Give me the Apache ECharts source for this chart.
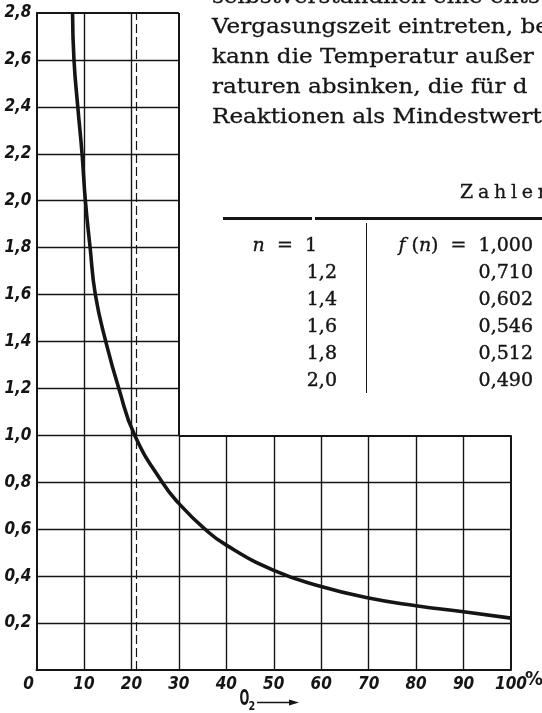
<!DOCTYPE html>
<html>
<head>
<meta charset="utf-8">
<title>Einfluss des Sauerstoffgehalts</title>
<script src="https://cdn.jsdelivr.net/npm/echarts@6/dist/echarts.min.js"></script>
<style>
  html, body { margin: 0; padding: 0; background: #fff; }
  #chart { width: 542px; height: 713px; }
</style>
</head>
<body>
<div id="chart"></div>
<script>
// O2 content of the blast (%) and the relative factor
const o2Pct  = [7.6, 7.9, 8.7, 9.6, 10.3, 11.3, 12.4, 14.6, 17.35, 20.7, 26.5, 30, 35.5, 40, 50, 60, 70, 80, 90, 100];
const factor = [2.8, 2.6, 2.4, 2.2, 2.0, 1.8, 1.6, 1.4, 1.2, 1.0, 0.8, 0.71, 0.6, 0.532, 0.425, 0.356, 0.307, 0.274, 0.248, 0.221];

// Tick values of both axes
const xTicks = [0, 10, 20, 30, 40, 50, 60, 70, 80, 90, 100];
const yTicks = [0, 0.2, 0.4, 0.6, 0.8, 1.0, 1.2, 1.4, 1.6, 1.8, 2.0, 2.2, 2.4, 2.6, 2.8];

// The ruled field is L-shaped: tall up to 30 % O2, low (up to 1,0) beyond that
const narrowXMax = 30;
const lowYMax = 1.0;
const airO2 = 21;   // oxygen content of air, dashed line

// Accompanying text block and table
const paragraph = [
  'selbstverständlich eine ents',
  'Vergasungszeit eintreten, be',
  'kann die Temperatur außer',
  'raturen absinken, die für d',
  'Reaktionen als Mindestwert'
];
const tableN  = ['1', '1,2', '1,4', '1,6', '1,8', '2,0'];
const tableFn = ['1,000', '0,710', '0,602', '0,546', '0,512', '0,490'];

const INK = '#151515';
const yMax = yTicks[yTicks.length - 1];
const xMax = xTicks[xTicks.length - 1];

function seg(x1, y1, x2, y2, width, type) {
  return [
    { coord: [x1, y1], lineStyle: { width: width, type: type || 'solid', color: INK } },
    { coord: [x2, y2] }
  ];
}

const rules = [];
// horizontal rules
yTicks.forEach(function (v) {
  if (v === 0) return;
  if (v < lowYMax) rules.push(seg(0, v, xMax, v, 1.4));
  else if (v === lowYMax) {
    rules.push(seg(0, v, narrowXMax, v, 1.4));
    rules.push(seg(narrowXMax, v, xMax, v, 2));
  } else if (v === yMax) rules.push(seg(0, v, narrowXMax, v, 2));
  else rules.push(seg(0, v, narrowXMax, v, 1.4));
});
// vertical rules
xTicks.forEach(function (v) {
  if (v === 0) return;
  if (v < narrowXMax) rules.push(seg(v, 0, v, yMax, 1.4));
  else if (v === narrowXMax) {
    rules.push(seg(v, 0, v, lowYMax, 1.4));
    rules.push(seg(v, lowYMax, v, yMax, 2));
  } else if (v === xMax) rules.push(seg(v, 0, v, lowYMax, 2));
  else rules.push(seg(v, 0, v, lowYMax, 1.4));
});
// air oxygen content
rules.push(seg(airO2, 0, airO2, yMax, 1.2, [9, 4]));

const curve = o2Pct.map(function (x, i) { return [x, factor[i]]; });

const tickFont = '"DejaVu Sans Condensed", "Liberation Sans Narrow", sans-serif';
const serif = '"DejaVu Serif", "Liberation Serif", serif';

const graphics = [];
paragraph.forEach(function (t, i) {
  graphics.push({
    type: 'text', x: 212, y: -2 + i * 30, scaleX: 1.1,
    style: { text: t, font: '21px ' + serif, fill: INK, stroke: INK, lineWidth: 0.3, verticalAlign: 'middle' }
  });
});
graphics.push({
  type: 'text', x: 460, y: 193,
  style: { text: 'Z\u2005a\u2005h\u2005l\u2005e\u2005n', font: '19px ' + serif, fill: INK, stroke: INK, lineWidth: 0.3, verticalAlign: 'middle' }
});
graphics.push({ type: 'line', shape: { x1: 223, y1: 218.5, x2: 312, y2: 218.5 }, style: { stroke: INK, lineWidth: 3 } });
graphics.push({ type: 'line', shape: { x1: 315, y1: 218.5, x2: 542, y2: 218.5 }, style: { stroke: INK, lineWidth: 3 } });
graphics.push({ type: 'line', shape: { x1: 366.5, y1: 223, x2: 366.5, y2: 393 }, style: { stroke: INK, lineWidth: 1 } });
const rich = { i: { fontStyle: 'italic', fontFamily: serif, fontSize: 19, fill: INK, stroke: INK, lineWidth: 0.3 } };
tableN.forEach(function (t, i) {
  const y = 245.7 + i * 27;
  graphics.push({
    type: 'text', x: i === 0 ? 317 : 337, y: y,
    style: { text: i === 0 ? '{i|n}  =  ' + t : t, rich: rich, font: '19px ' + serif, fill: INK, stroke: INK, lineWidth: 0.4, align: 'right', verticalAlign: 'middle' }
  });
  graphics.push({
    type: 'text', x: 533, y: y,
    style: { text: i === 0 ? '{i|f} ({i|n})  =  ' + tableFn[i] : tableFn[i], rich: rich, font: '19px ' + serif, fill: INK, stroke: INK, lineWidth: 0.4, align: 'right', verticalAlign: 'middle' }
  });
});
// percent sign after the last tick label
graphics.push({
  type: 'text', x: 525, y: 680,
  style: { text: '%', font: 'bold 20px "DejaVu Sans Condensed", sans-serif', fill: INK, verticalAlign: 'middle' }
});
// axis name "O2 ->"
graphics.push({
  type: 'text', x: 239.5, y: 699.5, scaleX: 0.55,
  style: { text: 'O', font: 'bold 21px "DejaVu Sans", sans-serif', fill: INK, verticalAlign: 'middle' }
});
graphics.push({
  type: 'text', x: 248.5, y: 706.5, scaleX: 0.8,
  style: { text: '2', font: 'bold 12px "DejaVu Sans", sans-serif', fill: INK, verticalAlign: 'middle' }
});
graphics.push({ type: 'line', shape: { x1: 257, y1: 702.5, x2: 291, y2: 702.5 }, style: { stroke: INK, lineWidth: 1.5 } });
graphics.push({ type: 'polygon', shape: { points: [[289, 699.5], [299, 702.5], [289, 705.5]] }, style: { fill: INK } });

const chart = echarts.init(document.getElementById('chart'), null, { renderer: 'canvas' });
chart.setOption({
  backgroundColor: '#ffffff',
  animation: false,
  grid: { left: 36.5, right: 31, top: 13, bottom: 43, containLabel: false },
  xAxis: {
    type: 'value', min: 0, max: xMax, interval: 10,
    axisLine: { show: true, onZero: false, lineStyle: { color: INK, width: 2 } },
    axisTick: { show: false },
    splitLine: { show: false },
    axisLabel: {
      margin: 6, color: INK, fontFamily: tickFont, fontStyle: 'italic', fontWeight: 'bold', fontSize: 17,
      formatter: function (v) { return v === 0 ? '{z|0}' : String(v); },
      rich: { z: { padding: [0, 16, 0, 0], fontFamily: tickFont, fontStyle: 'italic', fontWeight: 'bold', fontSize: 17, color: INK } }
    }
  },
  yAxis: {
    type: 'value', min: 0, max: yMax, interval: 0.2,
    axisLine: { show: true, lineStyle: { color: INK, width: 2 } },
    axisTick: { show: false },
    splitLine: { show: false },
    axisLabel: {
      margin: 5, color: INK, fontFamily: tickFont, fontStyle: 'italic', fontWeight: 'bold', fontSize: 17,
      formatter: function (v) { return v === 0 ? '' : v.toFixed(1).replace('.', ','); }
    }
  },
  series: [
    {
      name: 'Netz', type: 'line', z: 1, silent: true,
      data: [[0, 0]], symbol: 'none', lineStyle: { opacity: 0 },
      markLine: { silent: true, symbol: ['none', 'none'], label: { show: false }, animation: false, data: rules }
    },
    {
      name: 'f', type: 'line', z: 3, data: curve,
      smooth: 0.5, showSymbol: false, symbol: 'none',
      lineStyle: { color: INK, width: 3.6 }
    }
  ],
  graphic: graphics
});
</script>
</body>
</html>
